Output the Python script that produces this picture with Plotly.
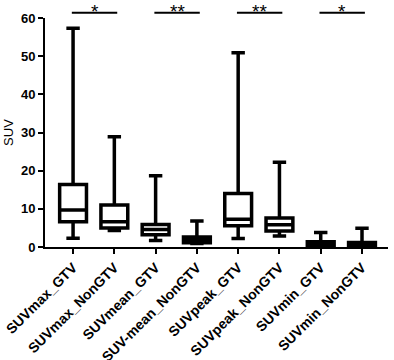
import plotly.graph_objects as go

categories = ["SUVmax_GTV", "SUVmax_NonGTV", "SUVmean_GTV", "SUV-mean_NonGTV",
              "SUVpeak_GTV", "SUVpeak_NonGTV", "SUVmin_GTV", "SUVmin_NonGTV"]
lower_whisker = [2.3, 4.3, 1.7, 0.9, 2.2, 2.9, 0.1, 0.1]
q1_values = [6.6, 5.0, 3.2, 1.1, 5.6, 4.2, 0.2, 0.1]
median_values = [9.7, 6.6, 4.6, 1.8, 7.3, 5.8, 0.8, 0.6]
q3_values = [16.4, 11.0, 5.9, 2.6, 14.0, 7.6, 1.4, 1.2]
upper_whisker = [57.3, 28.9, 18.7, 6.8, 50.9, 22.2, 3.8, 4.9]

sig_pairs = [(0, 1), (2, 3), (4, 5), (6, 7)]
sig_labels = ["*", "**", "**", "*"]
sig_level = 61.4
y_max = 60

font_family = "Liberation Sans, Arial, sans-serif"

fig = go.Figure()
fig.add_trace(go.Box(
    x=categories,
    q1=q1_values, median=median_values, q3=q3_values,
    lowerfence=lower_whisker, upperfence=upper_whisker,
    fillcolor="white",
    line=dict(color="black", width=3.5),
    whiskerwidth=0.5,
    width=0.65,
    boxpoints=False,
    showlegend=False,
    hoverinfo="skip",
))

shapes = []
annotations = []
sig_paper = sig_level / y_max
for (a, b), lab in zip(sig_pairs, sig_labels):
    shapes.append(dict(type="line", xref="x", yref="paper",
                       x0=a - 0.03, x1=b + 0.07, y0=sig_paper, y1=sig_paper,
                       line=dict(color="black", width=2)))
    annotations.append(dict(x=(a + b) / 2 + 0.02, y=sig_paper, xref="x", yref="paper",
                            text=lab, showarrow=False, yanchor="middle",
                            yshift=1,
                            font=dict(family=font_family, size=19, color="black")))

fig.update_layout(
    width=394, height=360,
    margin=dict(l=45, r=6, t=18, b=113),
    paper_bgcolor="white", plot_bgcolor="white",
    font=dict(family=font_family, color="black"),
    shapes=shapes, annotations=annotations,
    xaxis=dict(
        type="category",
        range=[-0.68, 7.63],
        automargin=False,
        showline=True, linecolor="black", linewidth=2,
        ticks="outside", ticklen=5, tickwidth=2, tickcolor="black",
        tickangle=-45,
        tickfont=dict(family=font_family, size=14, color="black", weight="bold"),
        showgrid=False, zeroline=False,
    ),
    yaxis=dict(
        range=[0, y_max], dtick=10,
        automargin=False,
        showline=True, linecolor="black", linewidth=2,
        ticks="outside", ticklen=5, tickwidth=2, tickcolor="black",
        tickfont=dict(family=font_family, size=13, color="black", weight="bold"),
        showgrid=False, zeroline=False,
        title=dict(text="SUV", standoff=4,
                   font=dict(family=font_family, size=13, color="black")),
    ),
)

fig.write_html("out.html",
               config={"displayModeBar": False},
               post_script="document.body.style.margin='0';document.body.style.overflow='hidden';")
